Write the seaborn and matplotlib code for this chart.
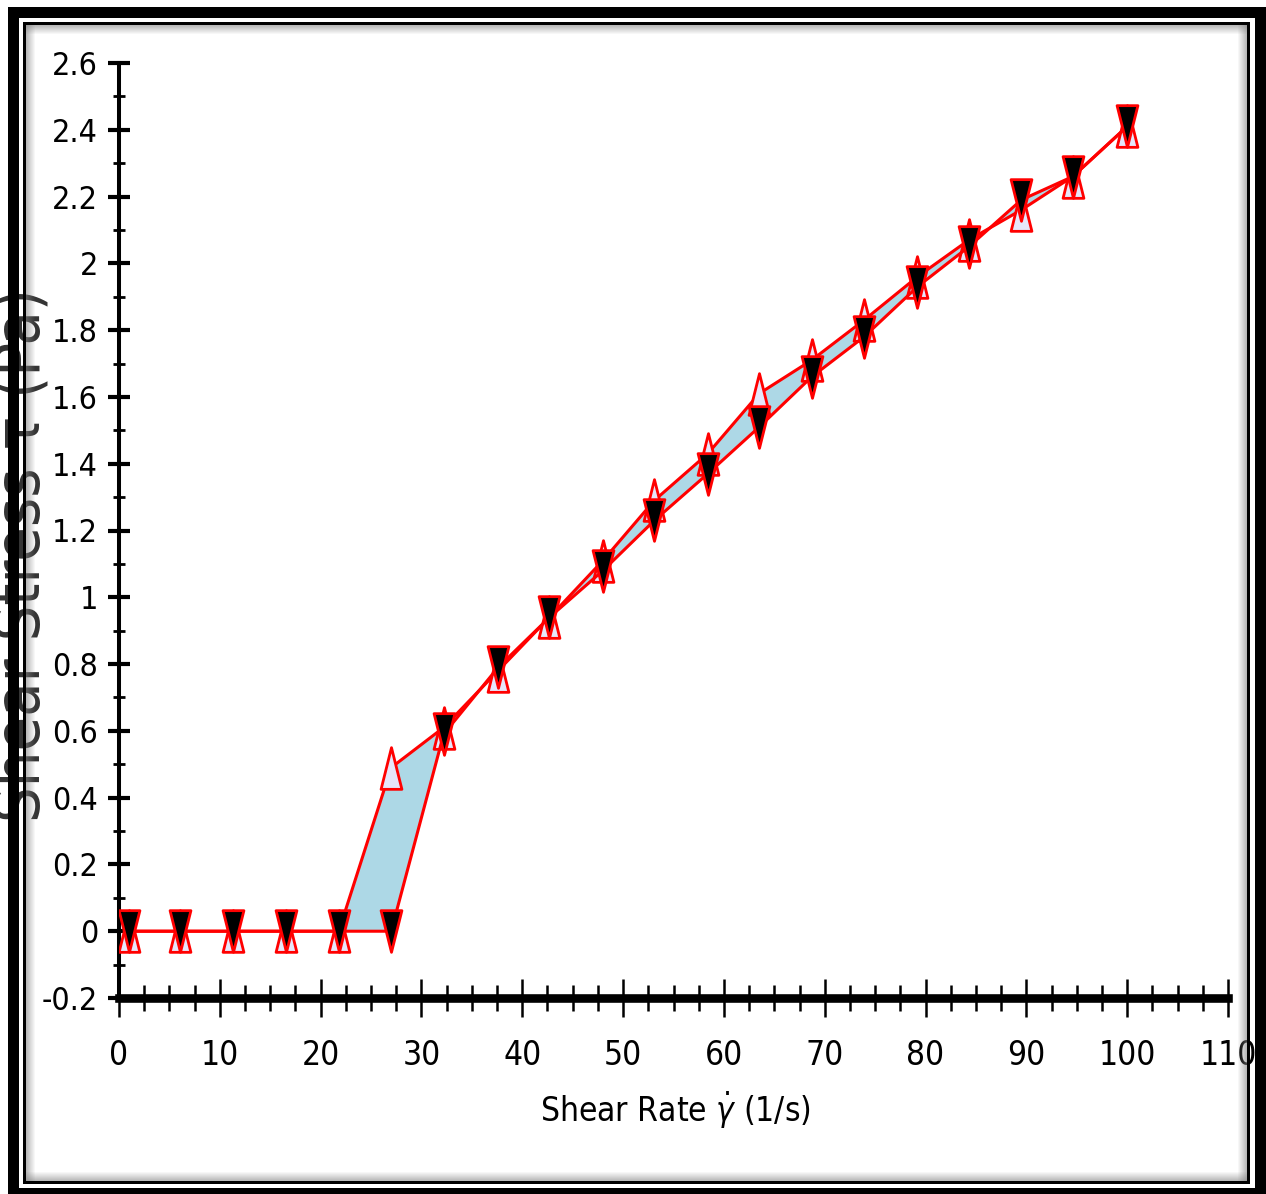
import numpy as np
import pandas as pd
import matplotlib
matplotlib.use("Agg")
import matplotlib.pyplot as plt
from matplotlib import font_manager
from matplotlib.path import Path
from matplotlib.patches import Rectangle
from matplotlib.ticker import FixedLocator, FixedFormatter, MultipleLocator
import seaborn as sns

# Flow curve: shear rate (1/s) vs shear stress (Pa), ramp up and ramp down
shear_rate = [1.0, 6.1, 11.3, 16.6, 21.8, 27.0, 32.2, 37.6, 42.7, 48.0,
              53.1, 58.4, 63.5, 68.7, 73.9, 79.2, 84.3, 89.5, 94.6, 100.0]
stress_up = [0.0, 0.0, 0.0, 0.0, 0.0, 0.49, 0.61, 0.78, 0.94, 1.11,
             1.29, 1.43, 1.61, 1.71, 1.83, 1.96, 2.07, 2.16, 2.26, 2.41]
stress_down = [0.0, 0.0, 0.0, 0.0, 0.0, 0.0, 0.59, 0.79, 0.94, 1.08,
               1.23, 1.37, 1.51, 1.66, 1.78, 1.93, 2.05, 2.19, 2.26, 2.41]

x_ticks = [0, 10, 20, 30, 40, 50, 60, 70, 80, 90, 100, 110]
x_tick_labels = ["0", "10", "20", "30", "40", "50", "60", "70", "80", "90", "100", "110"]
y_ticks = [-0.2, 0.0, 0.2, 0.4, 0.6, 0.8, 1.0, 1.2, 1.4, 1.6, 1.8, 2.0, 2.2, 2.4, 2.6]
y_tick_labels = ["-0.2", "0", "0.2", "0.4", "0.6", "0.8", "1", "1.2", "1.4", "1.6",
                 "1.8", "2", "2.2", "2.4", "2.6"]

df = pd.DataFrame({"rate": shear_rate, "up": stress_up, "down": stress_down})

sns.set_style("white")
available = {f.name for f in font_manager.fontManager.ttflist}
narrow = "Liberation Sans Narrow" if "Liberation Sans Narrow" in available else "DejaVu Sans"
plt.rcParams["font.family"] = [narrow, "DejaVu Sans"]
plt.rcParams["font.stretch"] = "condensed"

W, H = 1266, 1194
fig = plt.figure(figsize=(W / 100, H / 100), dpi=100)
fig.patch.set_facecolor("white")

ax_l, ax_r, ax_t, ax_b = 119, 1228, 63, 998
ax = fig.add_axes([ax_l / W, 1 - ax_b / H, (ax_r - ax_l) / W, (ax_b - ax_t) / H])
ax.set_facecolor("white")

# tall, narrow triangle markers
up_tri = Path([(-0.5, -1.0), (0.5, -1.0), (0.0, 1.0), (-0.5, -1.0)],
              [Path.MOVETO, Path.LINETO, Path.LINETO, Path.CLOSEPOLY])
down_tri = Path([(-0.5, 1.0), (0.5, 1.0), (0.0, -1.0), (-0.5, 1.0)],
                [Path.MOVETO, Path.LINETO, Path.LINETO, Path.CLOSEPOLY])

ax.fill_between(df["rate"], df["up"], df["down"], color="#ADD8E6", lw=0, zorder=1)

sns.lineplot(data=df, x="rate", y="up", ax=ax, color="red", lw=2.2, sort=False,
             estimator=None, marker=up_tri, markersize=30, markerfacecolor="#E6E6FA",
             markeredgecolor="red", markeredgewidth=2.0, zorder=3)
sns.lineplot(data=df, x="rate", y="down", ax=ax, color="red", lw=2.2, sort=False,
             estimator=None, marker=down_tri, markersize=30, markerfacecolor="black",
             markeredgecolor="red", markeredgewidth=2.0, zorder=4)

ax.set_xlim(0, 110)
ax.set_ylim(-0.2, 2.6)

ax.xaxis.set_major_locator(FixedLocator(x_ticks))
ax.xaxis.set_major_formatter(FixedFormatter(x_tick_labels))
ax.xaxis.set_minor_locator(MultipleLocator(2.5))
ax.yaxis.set_major_locator(FixedLocator(y_ticks))
ax.yaxis.set_major_formatter(FixedFormatter(y_tick_labels))
ax.yaxis.set_minor_locator(MultipleLocator(0.1))

for side in ["top", "right"]:
    ax.spines[side].set_visible(False)
ax.spines["left"].set_linewidth(2.9)
ax.spines["bottom"].set_linewidth(6.2)
ax.spines["left"].set_color("black")
ax.spines["bottom"].set_color("black")

ax.tick_params(axis="x", which="major", direction="inout", length=27, width=1.8,
               pad=16, labelsize=24, colors="black")
ax.tick_params(axis="x", which="minor", direction="inout", length=19, width=1.8, colors="black")
ax.tick_params(axis="y", which="major", direction="inout", length=16, width=3.0,
               pad=7, labelsize=23, colors="black")
ax.tick_params(axis="y", which="minor", direction="inout", length=8, width=2.0, colors="black")
ax.tick_params(bottom=True, left=True, which="both")

ax.set_xlabel(r"Shear Rate $\dot{\gamma}$ (1/s)", fontsize=24, color="black")
ax.xaxis.set_label_coords((675 - ax_l) / (ax_r - ax_l), (ax_b - 1110) / (ax_b - ax_t))
ax.xaxis.label.set_verticalalignment("center")

ax.set_ylabel("Shear Stress τ (Pa)", fontsize=45, color="#333333")
ax.yaxis.set_label_coords((40 - ax_l) / (ax_r - ax_l), (ax_b - 555) / (ax_b - ax_t))
ax.yaxis.label.set_verticalalignment("baseline")


def frame_rect(x0, y0, x1, y1, color, alpha=1.0):
    fig.patches.append(Rectangle((x0 / W, 1 - y1 / H), (x1 - x0) / W, (y1 - y0) / H,
                                 transform=fig.transFigure, facecolor=color,
                                 edgecolor="none", alpha=alpha, zorder=10))


# outer heavy border
frame_rect(8, 7, 19, H, "black")
frame_rect(8, 7, W, 18, "black")
frame_rect(1255, 7, W, H, "black")
frame_rect(8, 1188, W, H, "black")
# inner thin border
frame_rect(23, 22, 26, 1184, "black")
frame_rect(23, 22, 1250, 25, "black")
frame_rect(1247, 22, 1250, 1184, "black")
frame_rect(23, 1181, 1250, 1184, "black")
# soft inner shadow
for i in range(9):
    a = 0.55 * (1 - i / 9)
    frame_rect(26 + i, 25, 27 + i, 1181, "gray", a)
    frame_rect(26, 25 + i, 1247, 26 + i, "gray", a)
    frame_rect(1246 - i, 25, 1247 - i, 1181, "gray", a)
    frame_rect(26, 1180 - i, 1247, 1181 - i, "gray", a)

fig.savefig("out.png", dpi=100, facecolor="white")
